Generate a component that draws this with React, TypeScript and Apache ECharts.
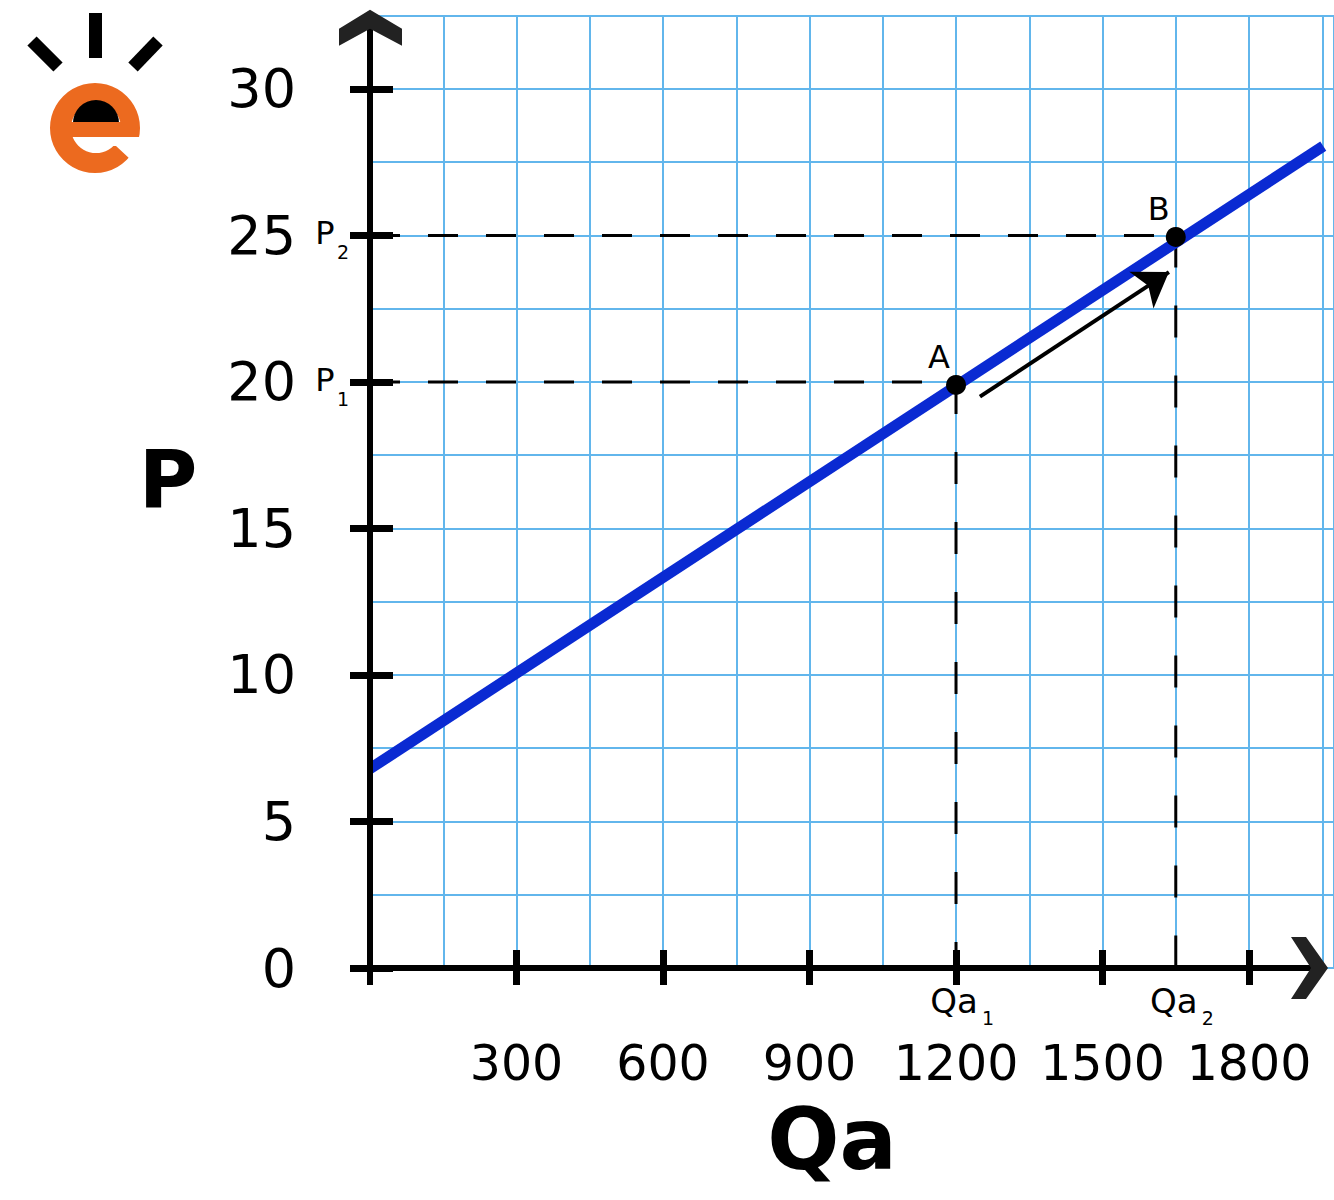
import React, { useEffect, useRef } from "react";
import * as echarts from "echarts";

// ---- data ----
const qaTickValues = [300, 600, 900, 1200, 1500, 1800];
const pTickValues = [0, 5, 10, 15, 20, 25, 30];
const supplyCurve: number[][] = [
  [0, 6.8],
  [1952, 28.05],
];
const P1 = 20;
const P2 = 25;
const QA1 = 1200;
const QA2 = 1650;
const pointA = [QA1, 19.9];
const pointB = [QA2, 24.95];
const arrowFrom = [1249, 19.5];
const arrowTo = [1636, 23.75];
const pLevels = [
  { value: P1, sub: "1" },
  { value: P2, sub: "2" },
];
const qLevels = [
  { value: QA1, sub: "1" },
  { value: QA2, sub: "2" },
];
const X_MAX = 1974;
const Y_MAX = 32.5;

const FONT = "DejaVu Sans";
const GRID_COLOR = "#62b6ec";
const BLUE = "#0a2ad2";

function buildOption() {
  const gridAxisX = {
    type: "value",
    min: 0,
    max: X_MAX,
    interval: 150,
    axisLine: { show: false },
    axisTick: { show: false },
    axisLabel: { show: false },
    splitLine: { show: true, lineStyle: { color: GRID_COLOR, width: 2 } },
  };
  const tickAxisX = (inside: boolean, withLabels: boolean) => ({
    type: "value",
    min: 0,
    max: X_MAX,
    position: "bottom",
    axisLine: { show: false },
    splitLine: { show: false },
    axisTick: {
      show: true,
      inside,
      length: inside ? 18 : 17,
      customValues: qaTickValues,
      lineStyle: { color: "#000", width: 7 },
    },
    axisLabel: {
      show: withLabels,
      customValues: qaTickValues,
      formatter: (v: number) => String(v),
      margin: 73,
      fontSize: 49,
      lineHeight: 44,
      fontFamily: FONT,
      color: "#000",
    },
  });
  const gridAxisY = {
    type: "value",
    min: 0,
    max: Y_MAX,
    interval: 2.5,
    axisLine: { show: false },
    axisTick: { show: false },
    axisLabel: { show: false },
    splitLine: { show: true, lineStyle: { color: GRID_COLOR, width: 2 } },
  };
  const tickAxisY = (inside: boolean, withLabels: boolean) => ({
    type: "value",
    min: 0,
    max: Y_MAX,
    position: "left",
    axisLine: { show: false },
    splitLine: { show: false },
    axisTick: {
      show: true,
      inside,
      length: inside ? 23 : 20,
      customValues: pTickValues,
      lineStyle: { color: "#000", width: 7 },
    },
    axisLabel: {
      show: withLabels,
      customValues: pTickValues,
      formatter: (v: number) => String(v),
      margin: 74,
      fontSize: 54,
      fontFamily: FONT,
      color: "#000",
    },
  });

  const dashed = (data: number[][], dash: number[]) => ({
    type: "line",
    data,
    symbol: "none",
    silent: true,
    z: 3,
    lineStyle: { color: "#000", width: 3, type: dash },
  });

  return {
    animation: false,
    backgroundColor: "#fff",
    grid: { left: 370, right: 0, top: 15.7, bottom: 232, outerBoundsMode: "none" },
    xAxis: [gridAxisX, tickAxisX(false, true), tickAxisX(true, false)],
    yAxis: [gridAxisY, tickAxisY(false, true), tickAxisY(true, false)],
    series: [
      dashed([[0, P2], [QA2, P2]], [30, 28]),
      dashed([[0, P1], [QA1, P1]], [30, 28]),
      dashed([[QA1, P1], [QA1, 0]], [32, 38]),
      dashed([[QA2, P2], [QA2, 0]], [32, 38]),
      {
        type: "line",
        data: supplyCurve,
        symbol: "none",
        z: 5,
        lineStyle: { color: BLUE, width: 11, cap: "butt" },
      },
      {
        type: "lines",
        coordinateSystem: "cartesian2d",
        z: 6,
        symbol: ["none", "arrow"],
        symbolSize: 33,
        lineStyle: { color: "#000", width: 4, opacity: 1, curveness: 0 },
        data: [{ coords: [arrowFrom, arrowTo] }],
      },
      {
        type: "scatter",
        z: 7,
        symbolSize: 20,
        itemStyle: { color: "#000", opacity: 1 },
        label: {
          show: true,
          position: "top",
          distance: 2,
          offset: [-17, 0],
          fontSize: 32,
          fontFamily: FONT,
          color: "#000",
          opacity: 1,
          formatter: (p: any) => p.name,
        },
        data: [
          { name: "A", value: pointA },
          { name: "B", value: pointB },
        ],
      },
    ],
  };
}

function logoGraphics() {
  const rays = [
    [95.5, 13, 95.5, 58],
    [32, 41, 58, 67],
    [158, 41, 133, 67],
  ];
  const els: any[] = rays.map((r) => ({
    type: "line",
    shape: { x1: r[0], y1: r[1], x2: r[2], y2: r[3] },
    style: { stroke: "#000", lineWidth: 13, lineCap: "butt" },
  }));
  els.push(
    { type: "circle", shape: { cx: 95, cy: 128, r: 45 }, style: { fill: "#ec6a1f" } },
    { type: "circle", shape: { cx: 96, cy: 128, r: 25 }, style: { fill: "#fff" } },
    {
      type: "sector",
      shape: { cx: 96, cy: 123, r: 23, r0: 0, startAngle: Math.PI, endAngle: Math.PI * 2, clockwise: true },
      style: { fill: "#000" },
    },
    { type: "rect", shape: { x: 69, y: 122, width: 70, height: 15 }, style: { fill: "#ec6a1f" } },
    {
      type: "polygon",
      shape: { points: [[100, 137], [146, 137], [146, 145], [130, 159], [116, 146], [100, 146]] },
      style: { fill: "#fff" },
    }
  );
  return els;
}

export default function App() {
  const ref = useRef<HTMLDivElement>(null);
  useEffect(() => {
    if (!ref.current) return;
    const chart = echarts.init(ref.current, null, { renderer: "svg" });
    chart.setOption(buildOption() as any);

    const px = (q: number, p: number) => chart.convertToPixel({ gridIndex: 0 }, [q, p]) as number[];
    const [x0, y0] = px(0, 0);
    const [xr, yt] = px(X_MAX, Y_MAX);
    const ink = "#000";
    const chevron = "#222";

    const g: any[] = [];
    // axis lines
    g.push({
      type: "line",
      z: 20,
      shape: { x1: x0 - 20, y1: y0, x2: xr - 14, y2: y0 },
      style: { stroke: ink, lineWidth: 6 },
    });
    g.push({
      type: "line",
      z: 20,
      shape: { x1: x0, y1: y0 + 17, x2: x0, y2: yt + 12 },
      style: { stroke: ink, lineWidth: 6 },
    });
    // arrow heads (chevrons)
    const ay = yt - 6;
    g.push({
      type: "polygon",
      z: 21,
      shape: {
        points: [
          [x0, ay],
          [x0 + 32, ay + 19],
          [x0 + 32, ay + 36],
          [x0, ay + 19],
          [x0 - 31, ay + 36],
          [x0 - 31, ay + 19],
        ],
      },
      style: { fill: chevron },
    });
    const ax = xr - 6;
    g.push({
      type: "polygon",
      z: 21,
      shape: {
        points: [
          [ax, y0],
          [ax - 22, y0 + 31],
          [ax - 37, y0 + 31],
          [ax - 17, y0],
          [ax - 37, y0 - 31],
          [ax - 22, y0 - 31],
        ],
      },
      style: { fill: chevron },
    });

    // P1 / P2 labels
    pLevels.forEach((l) => {
      const [, y] = px(0, l.value);
      g.push({
        type: "text",
        z: 22,
        x: x0 - 45,
        y: y - 2,
        style: { text: "P", fontSize: 32, fontFamily: FONT, fill: ink, align: "center", verticalAlign: "middle" },
      });
      g.push({
        type: "text",
        z: 22,
        x: x0 - 27,
        y: y + 17,
        style: { text: l.sub, fontSize: 19, fontFamily: FONT, fill: ink, align: "center", verticalAlign: "middle" },
      });
    });
    // Qa1 / Qa2 labels
    qLevels.forEach((l) => {
      const [x] = px(l.value, 0);
      g.push({
        type: "text",
        z: 22,
        x: x - 2,
        y: y0 + 33,
        style: { text: "Qa", fontSize: 34, fontFamily: FONT, fill: ink, align: "center", verticalAlign: "middle" },
      });
      g.push({
        type: "text",
        z: 22,
        x: x + 32,
        y: y0 + 50,
        style: { text: l.sub, fontSize: 19, fontFamily: FONT, fill: ink, align: "center", verticalAlign: "middle" },
      });
    });
    // axis names
    g.push({
      type: "text",
      z: 22,
      x: 168,
      y: 479,
      style: { text: "P", fontSize: 80, fontWeight: "bold", fontFamily: FONT, fill: ink, align: "center", verticalAlign: "middle" },
    });
    g.push({
      type: "text",
      z: 22,
      x: 832,
      y: 1139,
      style: {
        text: "Qa",
        fontSize: 85,
        lineHeight: 64,
        fontWeight: "bold",
        fontFamily: FONT,
        fill: ink,
        align: "center",
        verticalAlign: "middle",
      },
    });
    logoGraphics().forEach((e) => g.push({ ...e, z: 22 }));

    chart.setOption({ graphic: g });
    return () => chart.dispose();
  }, []);

  return (
    <div
      ref={ref}
      style={{ position: "absolute", left: 0, top: 0, width: 1334, height: 1200, background: "#fff" }}
    />
  );
}
